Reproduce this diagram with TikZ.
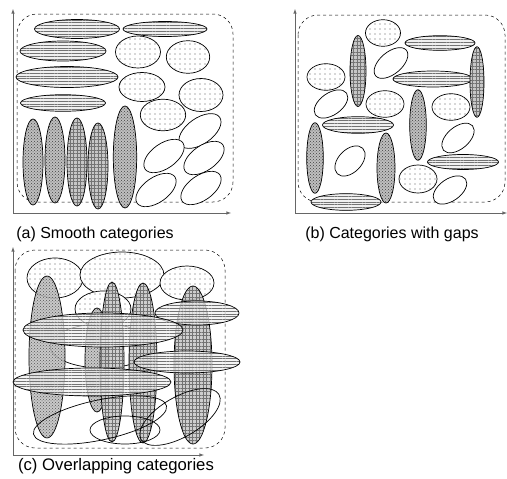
\documentclass[tikz,border=0pt]{standalone}
\usepackage{fontspec}
\setmainfont{Liberation Sans}
\usetikzlibrary{patterns,patterns.meta}
\tikzstyle{hl}=[draw,line width=0.7pt,preaction={fill=gray!12},pattern={Lines[angle=0,distance=2.8pt,line width=0.35pt]},pattern color=gray!90!black]
\tikzstyle{dt}=[draw,line width=0.7pt,preaction={fill=white},pattern={Dots[distance=5pt,radius=0.6pt]},pattern color=gray!70!black]
\tikzstyle{ck}=[draw,line width=0.7pt,preaction={fill=gray!50},pattern=crosshatch dots,pattern color=gray!50!black]
\tikzstyle{gr}=[draw,line width=0.7pt,preaction={fill=gray!45},pattern={Hatch[angle=0,distance=3.5pt,line width=0.3pt]},pattern color=gray!90!black]
\tikzstyle{wh}=[draw,line width=0.7pt,fill=white]
\tikzstyle{ring}=[draw,line width=0.7pt]
\tikzstyle{box}=[dashed,line width=0.5pt,rounded corners=20pt]
\tikzstyle{ax}=[draw=gray!80!black,line width=0.6pt,-latex]
\tikzstyle{captext}=[font=\fontsize{16}{19}\selectfont]

\begin{document}
\begin{tikzpicture}[x=1pt,y=-1pt]
    \useasboundingbox (0,0) rectangle (507,479);

    % (a)
    \coordinate (ao) at (13,213);
    \coordinate (ay) at (13,9);
    \coordinate (ax) at (231,213);
    \draw[ax] (ao) -- (ay);
    \draw[ax] (ao) -- (ax);
    \draw[box] (17,14) rectangle (233,202);

    \draw[hl] (77,29) ellipse (42.5 and 9.5);
    \draw[hl] (165,29) ellipse (42 and 7.5);
    \draw[hl] (63,51) ellipse (43 and 10);
    \draw[hl] (67,77) ellipse (51 and 10.5);
    \draw[hl] (63,103) ellipse (42.5 and 8.3);
    \draw[dt] (138,52) ellipse (22.5 and 16);
    \draw[dt] (188,57) ellipse (21.7 and 16.3);
    \draw[dt] (142,87) ellipse (23 and 14.5);
    \draw[dt] (201,95) ellipse (22 and 16.5);
    \draw[dt] (163,115) ellipse (22.7 and 15.8);
    \draw[ck] (33,162) ellipse (10 and 43);
    \draw[ck] (55,160) ellipse (10 and 43);
    \draw[gr] (77,162) ellipse (10 and 44);
    \draw[gr] (98,166) ellipse (10 and 43);
    \draw[ck] (125,157) ellipse (11.7 and 51);
    \draw[wh,rotate around={35:(200,131)}] (200,131) ellipse (24 and 13);
    \draw[wh,rotate around={35:(164,156)}] (164,156) ellipse (23 and 12.5);
    \draw[wh,rotate around={35:(204,158)}] (204,158) ellipse (23 and 12.5);
    \draw[wh,rotate around={35:(156,190)}] (156,190) ellipse (23 and 12.5);
    \draw[wh,rotate around={35:(201,188)}] (201,188) ellipse (23 and 12.5);

    \node[captext] (capa) at (95,234) {(a) Smooth categories};

    % (b)
    \coordinate (bo) at (295,213);
    \coordinate (by) at (295,9);
    \coordinate (bx) at (507,213);
    \draw[ax] (bo) -- (by);
    \draw[ax] (bo) -- (bx);
    \draw[box] (298,15) rectangle (505,202);

    \draw[dt] (383,33) ellipse (17.5 and 13.3);
    \draw[dt] (326,77) ellipse (19 and 13.3);
    \draw[dt] (385,104) ellipse (19 and 13.3);
    \draw[dt] (451,107) ellipse (19 and 13.3);
    \draw[dt] (418,179) ellipse (19 and 14);
    \draw[wh,rotate around={40:(391,63)}] (391,63) ellipse (20 and 11);
    \draw[wh,rotate around={35:(331,104)}] (331,104) ellipse (19 and 11);
    \draw[wh,rotate around={40:(458,138)}] (458,138) ellipse (19 and 11);
    \draw[wh,rotate around={45:(350,161)}] (350,161) ellipse (18 and 11.5);
    \draw[wh,rotate around={35:(450,190)}] (450,190) ellipse (19 and 11);
    \draw[hl] (440,43) ellipse (35 and 7.3);
    \draw[hl] (433,79) ellipse (40 and 8);
    \draw[hl] (358,125) ellipse (35.5 and 8.3);
    \draw[hl] (463,162) ellipse (35.5 and 7.5);
    \draw[hl] (346,202) ellipse (35 and 8.3);
    \draw[gr] (358,71) ellipse (8 and 35.5);
    \draw[gr] (477,82) ellipse (7 and 35.3);
    \draw[ck] (418,125) ellipse (8.3 and 35.3);
    \draw[ck] (315,158) ellipse (8.3 and 35.3);
    \draw[ck] (386,168) ellipse (9 and 35);

    \node[captext] (capb) at (392,234) {(b) Categories with gaps};

    % (c)
    \coordinate (co) at (13,455);
    \coordinate (cy) at (13,247);
    \coordinate (cx) at (204,455);
    \draw[ax] (co) -- (cy);
    \draw[ax] (co) -- (cx);
    \draw[box] (15,250) rectangle (225,448);

    \draw[dt] (55,278) ellipse (28 and 20);
    \draw[dt] (122,275) ellipse (42 and 23);
    \draw[dt] (187,283) ellipse (27 and 17);
    \draw[dt] (103,309) ellipse (28 and 18);
    \draw[ring] (102,346) ellipse (52 and 22);
    \begin{scope}[fill opacity=0.85]
    \draw[ck] (47,357) ellipse (18 and 81);
    \draw[ck] (97,360) ellipse (12 and 52);
    \draw[gr] (112,362) ellipse (12 and 80);
    \draw[gr] (143,363) ellipse (14 and 80);
    \draw[gr] (193,365) ellipse (19 and 79);
    \end{scope}
    \begin{scope}[fill opacity=0.7]
    \draw[hl] (197,313) ellipse (42 and 12);
    \draw[hl] (103,330) ellipse (80 and 17);
    \draw[hl] (187,362) ellipse (53 and 11);
    \draw[hl] (92,382) ellipse (79 and 14);
    \end{scope}
    \draw[ring,rotate around={12:(100,420)}] (100,420) ellipse (68 and 20);
    \draw[ring] (125,430) ellipse (35 and 14);
    \draw[ring,rotate around={30:(180,417)}] (180,417) ellipse (45 and 20);

    \node[captext,font=\fontsize{16.7}{20}\selectfont] (capc) at (116,466) {(c) Overlapping categories};

\end{tikzpicture}
\end{document}
